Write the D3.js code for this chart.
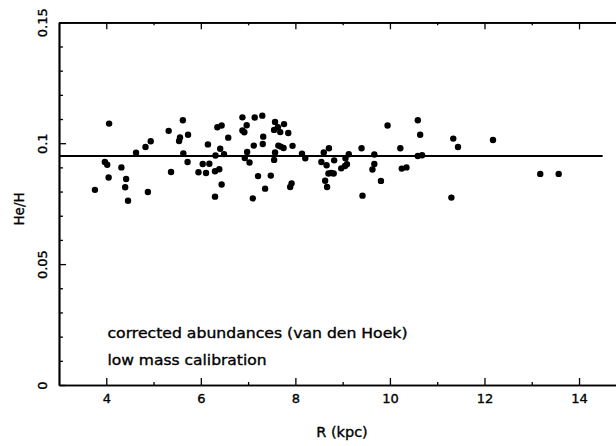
<!DOCTYPE html>
<html>
<head>
<meta charset="utf-8">
<script src="https://cdn.jsdelivr.net/npm/d3@7"></script>
<style>
  html, body { margin: 0; padding: 0; background: #fff; }
  svg { display: block; font-family: "DejaVu Sans", sans-serif; }
  svg text { fill: #000; stroke: #000; stroke-width: 0.35px; }
</style>
</head>
<body>
<svg id="chart" width="616" height="446"></svg>
<script>
// ---- data ----
const R_kpc = [3.76, 3.97, 4.02, 4.06, 4.05, 4.32, 4.42, 4.40, 4.46, 4.63,
  4.83, 4.88, 4.94, 5.32, 5.37, 5.54, 5.56, 5.62, 5.63, 5.72,
  5.73, 5.95, 6.04, 6.11, 6.15, 6.18, 6.30, 6.30, 6.31, 6.35,
  6.39, 6.41, 6.44, 6.44, 6.49, 6.58, 6.88, 6.88, 6.92, 6.93,
  6.97, 6.98, 7.03, 7.10, 7.12, 7.14, 7.21, 7.30, 7.31, 7.32,
  7.36, 7.48, 7.55, 7.55, 7.57, 7.57, 7.63, 7.64, 7.68, 7.69,
  7.75, 7.76, 7.85, 7.89, 7.92, 7.94, 8.14, 8.21, 8.55, 8.60,
  8.63, 8.66, 8.67, 8.70, 8.71, 8.76, 8.81, 8.82, 8.97, 9.05,
  9.06, 9.09, 9.13, 9.40, 9.42, 9.63, 9.67, 9.67, 9.81, 9.95,
  10.22, 10.25, 10.35, 10.59, 10.59, 10.64, 10.68, 11.34, 11.30, 11.44,
  12.18, 13.18, 13.57];
const HeH = [0.0807, 0.0922, 0.0911, 0.1081, 0.0858, 0.0900, 0.0852, 0.0818, 0.0762, 0.0961,
  0.0984, 0.0798, 0.1008, 0.1051, 0.0881, 0.1009, 0.1024, 0.1095, 0.0958, 0.0922,
  0.1035, 0.0880, 0.0914, 0.0877, 0.0995, 0.0915, 0.0884, 0.0779, 0.0949, 0.1066,
  0.0892, 0.0977, 0.1073, 0.0829, 0.0955, 0.1023, 0.1053, 0.1107, 0.1045, 0.0939,
  0.1074, 0.0964, 0.0920, 0.0772, 0.0990, 0.1106, 0.0864, 0.1114, 0.0997, 0.1027,
  0.0812, 0.0866, 0.0931, 0.1055, 0.1088, 0.0962, 0.1066, 0.0990, 0.1046, 0.0986,
  0.0980, 0.1079, 0.1042, 0.0819, 0.0834, 0.0989, 0.0957, 0.0938, 0.0922, 0.0962,
  0.0845, 0.0909, 0.0819, 0.0875, 0.0979, 0.0877, 0.0875, 0.0929, 0.0896, 0.0906,
  0.0938, 0.0913, 0.0954, 0.0979, 0.0783, 0.0891, 0.0914, 0.0953, 0.0844, 0.1073,
  0.0979, 0.0895, 0.0900, 0.1095, 0.0947, 0.1035, 0.0950, 0.1019, 0.0775, 0.0984,
  0.1013, 0.0873, 0.0873];
const meanHeH = 0.0947;
const meanRange = [3, 14.5];
const xMajorTicks = [4, 6, 8, 10, 12, 14];
const xMinorTicks = [5, 7, 9, 11, 13];
const yMajorTicks = [0, 0.05, 0.1, 0.15];
const yMinorTicks = [0.01, 0.02, 0.03, 0.04, 0.06, 0.07, 0.08, 0.09, 0.11, 0.12, 0.13, 0.14];
const yTickLabels = ["0", "0.05", "0.1", "0.15"];
const annotations = ["corrected abundances (van den Hoek)", "low mass calibration"];
const xTitle = "R (kpc)";
const yTitle = "He/H";

// ---- drawing ----
const svg = d3.select("#chart");
const x = d3.scaleLinear().domain([3, 15]).range([59, 626.3]);
const y = d3.scaleLinear().domain([0, 0.15]).range([385, 22.3]);

function styleAxis(g) {
  g.select(".domain").attr("stroke", "#000").attr("stroke-width", 1.7);
  g.selectAll(".tick line").attr("stroke", "#000").attr("stroke-width", 1.3);
}

// bottom axis
const gb = svg.append("g").attr("transform", `translate(0,${y(0)})`)
  .call(d3.axisBottom(x).tickValues(xMajorTicks).tickSize(-7).tickSizeOuter(0).tickPadding(9).tickFormat(d3.format("d")));
gb.selectAll("text").attr("font-size", 13).attr("font-family", "DejaVu Sans");
styleAxis(gb);
const gbm = svg.append("g").attr("transform", `translate(0,${y(0)})`)
  .call(d3.axisBottom(x).tickValues(xMinorTicks).tickSize(-3).tickSizeOuter(0).tickFormat(""));
styleAxis(gbm);

// top axis
const gt = svg.append("g").attr("transform", `translate(0,${y(0.15)})`)
  .call(d3.axisTop(x).tickValues(xMajorTicks).tickSize(-7).tickSizeOuter(0).tickFormat(""));
styleAxis(gt);
const gtm = svg.append("g").attr("transform", `translate(0,${y(0.15)})`)
  .call(d3.axisTop(x).tickValues(xMinorTicks).tickSize(-3).tickSizeOuter(0).tickFormat(""));
styleAxis(gtm);

// left axis
const gl = svg.append("g").attr("transform", `translate(${x(3)},0)`)
  .call(d3.axisLeft(y).tickValues(yMajorTicks).tickSize(-7).tickSizeOuter(0)
    .tickFormat((d, i) => yTickLabels[i]));
styleAxis(gl);
gl.selectAll("text")
  .attr("font-size", 13).attr("font-family", "DejaVu Sans")
  .attr("x", null).attr("dy", null).attr("text-anchor", "middle")
  .attr("transform", "translate(-12.5,0) rotate(-90)");
const glm = svg.append("g").attr("transform", `translate(${x(3)},0)`)
  .call(d3.axisLeft(y).tickValues(yMinorTicks).tickSize(-4).tickSizeOuter(0).tickFormat(""));
styleAxis(glm);

// mean line
svg.append("line")
  .attr("x1", x(meanRange[0])).attr("x2", x(meanRange[1]))
  .attr("y1", y(meanHeH)).attr("y2", y(meanHeH))
  .attr("stroke", "#000").attr("stroke-width", 2);

// points
svg.append("g").selectAll("circle")
  .data(R_kpc.map((r, i) => ({ r, h: HeH[i] })))
  .join("circle")
  .attr("cx", d => x(d.r)).attr("cy", d => y(d.h))
  .attr("r", 3.2).attr("fill", "#000");

// annotations
svg.append("text").attr("x", 107.5).attr("y", 337.5)
  .attr("font-size", 14).attr("textLength", 300).attr("lengthAdjust", "spacingAndGlyphs")
  .text(annotations[0]);
svg.append("text").attr("x", 107.5).attr("y", 364.5)
  .attr("font-size", 14).attr("textLength", 159).attr("lengthAdjust", "spacingAndGlyphs")
  .text(annotations[1]);

// axis titles
svg.append("text").attr("x", 342).attr("y", 437).attr("text-anchor", "middle")
  .attr("font-size", 14.5).text(xTitle);
svg.append("text").attr("text-anchor", "middle").attr("font-size", 13.5)
  .attr("transform", "translate(23.5,209) rotate(-90)").text(yTitle);
</script>
</body>
</html>
